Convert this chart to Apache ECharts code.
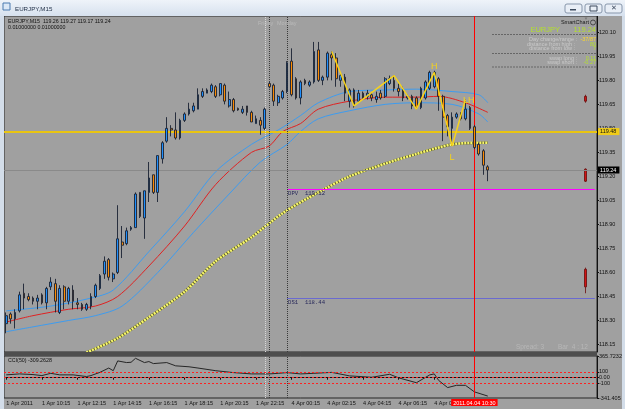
<!DOCTYPE html>
<html>
<head>
<meta charset="utf-8">
<script src="https://cdn.jsdelivr.net/npm/echarts@6/dist/echarts.min.js"></script>
<style>
  html, body { margin: 0; padding: 0; background: #a0a0a0; }
  #chart { width: 625px; height: 409px; }
</style>
</head>
<body>
<div id="chart"></div>
<script>
// bottom axis labels, one every 8 bars (2 hours of M15)
var tickLabels = ['1 Apr 2011', '1 Apr 10:15', '1 Apr 12:15', '1 Apr 14:15', '1 Apr 16:15', '1 Apr 18:15',
    '1 Apr 20:15', '1 Apr 22:15', '4 Apr 00:15', '4 Apr 02:15', '4 Apr 04:15', '4 Apr 06:15', '4 Apr 08:15'];
var priceTicks = [120.10, 119.95, 119.80, 119.65, 119.50, 119.35, 119.20, 119.05, 118.90, 118.75, 118.60, 118.45, 118.30, 118.15];
var cciTicks = [365.7232, 100, 0, -100, -341.405];

// candles, EURJPY M15
var opens = [118.28, 118.34, 118.31, 118.36, 118.47, 118.45, 118.44, 118.42, 118.46, 118.41,
    118.51, 118.53, 118.35, 118.51, 118.42, 118.49, 118.41, 118.40, 118.37, 118.39,
    118.45, 118.50, 118.59, 118.68, 118.56, 118.60, 118.79, 118.78, 118.87, 118.88,
    119.10, 118.94, 119.10, 119.21, 119.10, 119.31, 119.42, 119.50, 119.49, 119.44,
    119.55, 119.59, 119.61, 119.62, 119.70, 119.72, 119.73, 119.76, 119.71, 119.77,
    119.64, 119.68, 119.625, 119.60, 119.64, 119.60, 119.53, 119.55, 119.50, 119.78,
    119.77, 119.66, 119.69, 119.73, 119.92, 119.81, 119.69, 119.80, 119.77, 119.79,
    119.99, 119.80, 119.82, 119.96, 119.94, 119.80, 119.82, 119.67, 119.74, 119.67,
    119.72, 119.70, 119.71, 119.68, 119.72, 119.70, 119.78, 119.80, 119.75, 119.745,
    119.69, 119.70, 119.69, 119.63, 119.69, 119.75, 119.76, 119.81, 119.70, 119.58,
    119.50, 119.57, 119.59, 119.56, 119.63, 119.51, 119.40, 119.36, 119.26];
var closes = [118.33, 118.31, 118.35, 118.46, 118.44, 118.43, 118.42, 118.44, 118.41, 118.50,
    118.54, 118.42, 118.50, 118.42, 118.50, 118.42, 118.40, 118.37, 118.40, 118.45,
    118.52, 118.58, 118.67, 118.57, 118.59, 118.81, 118.77, 118.86, 118.88, 119.09,
    118.95, 119.11, 119.19, 119.10, 119.33, 119.41, 119.50, 119.49, 119.44, 119.55,
    119.59, 119.62, 119.64, 119.71, 119.73, 119.74, 119.77, 119.70, 119.78, 119.67,
    119.68, 119.61, 119.615, 119.62, 119.60, 119.54, 119.56, 119.52, 119.62, 119.76,
    119.67, 119.70, 119.73, 119.91, 119.71, 119.69, 119.79, 119.78, 119.79, 119.98,
    119.80, 119.82, 119.97, 119.94, 119.81, 119.83, 119.72, 119.74, 119.64, 119.72,
    119.69, 119.72, 119.69, 119.70, 119.69, 119.81, 119.81, 119.75, 119.73, 119.69,
    119.70, 119.64, 119.63, 119.75, 119.79, 119.85, 119.85, 119.70, 119.57, 119.51,
    119.57, 119.59, 119.56, 119.62, 119.50, 119.38, 119.34, 119.27, 119.24];
var lows = [118.22, 118.28, 118.25, 118.35, 118.37, 118.42, 118.40, 118.37, 118.40, 118.37,
    118.49, 118.35, 118.34, 118.37, 118.40, 118.37, 118.37, 118.36, 118.36, 118.37,
    118.44, 118.49, 118.56, 118.55, 118.54, 118.59, 118.69, 118.77, 118.86, 118.88,
    118.94, 118.81, 119.04, 119.09, 119.04, 119.28, 119.41, 119.45, 119.43, 119.43,
    119.54, 119.58, 119.60, 119.62, 119.69, 119.72, 119.72, 119.69, 119.70, 119.65,
    119.63, 119.60, 119.61, 119.59, 119.58, 119.54, 119.53, 119.46, 119.49, 119.75,
    119.64, 119.64, 119.68, 119.72, 119.70, 119.68, 119.65, 119.77, 119.76, 119.78,
    119.79, 119.77, 119.80, 119.80, 119.76, 119.76, 119.67, 119.63, 119.63, 119.66,
    119.68, 119.68, 119.67, 119.66, 119.68, 119.69, 119.77, 119.73, 119.70, 119.67,
    119.68, 119.62, 119.62, 119.62, 119.68, 119.74, 119.75, 119.61, 119.42, 119.45,
    119.39, 119.56, 119.55, 119.55, 119.49, 119.37, 119.33, 119.21, 119.17];
var highs = [118.35, 118.35, 118.37, 118.48, 118.53, 118.47, 118.45, 118.46, 118.47, 118.51,
    118.57, 118.56, 118.52, 118.52, 118.51, 118.52, 118.44, 118.41, 118.41, 118.47,
    118.53, 118.59, 118.70, 118.69, 118.60, 119.02, 118.89, 118.88, 118.89, 119.10,
    119.10, 119.11, 119.29, 119.21, 119.33, 119.42, 119.57, 119.52, 119.60, 119.56,
    119.60, 119.66, 119.66, 119.75, 119.75, 119.75, 119.78, 119.77, 119.78, 119.78,
    119.73, 119.69, 119.63, 119.64, 119.64, 119.61, 119.58, 119.57, 119.63, 119.79,
    119.78, 119.71, 119.74, 119.92, 120.00, 119.82, 119.80, 119.81, 119.80, 120.04,
    120.04, 119.83, 119.98, 119.98, 119.97, 119.85, 119.84, 119.75, 119.75, 119.74,
    119.73, 119.74, 119.72, 119.73, 119.74, 119.82, 119.83, 119.83, 119.78, 119.76,
    119.71, 119.71, 119.70, 119.76, 119.80, 119.86, 119.86, 119.82, 119.71, 119.59,
    119.60, 119.60, 119.60, 119.68, 119.64, 119.52, 119.41, 119.37, 119.27];

// moving averages, read at points along each curve: [bar, price]
var maUpper = [[0, 118.36], [10, 118.39], [19, 118.44], [24, 118.49], [32, 118.73], [40, 118.98],
    [47, 119.23], [55, 119.40], [61, 119.49], [66, 119.58], [70, 119.66], [77, 119.73],
    [85, 119.74], [92, 119.745], [100, 119.73], [106, 119.71], [108, 119.66]];
var maMid = [[0, 118.29], [6, 118.33], [14, 118.37], [20, 118.39], [25, 118.45], [32, 118.64],
    [40, 118.89], [47, 119.15], [55, 119.35], [59, 119.39], [62, 119.48], [66, 119.53],
    [70, 119.62], [77, 119.67], [85, 119.695], [92, 119.695], [97, 119.70], [103, 119.66], [108, 119.60]];
var maLower = [[0, 118.23], [6, 118.26], [14, 118.30], [20, 118.33], [26, 118.39], [34, 118.60],
    [42, 118.85], [50, 119.09], [57, 119.29], [63, 119.40], [66, 119.48], [70, 119.56],
    [77, 119.61], [85, 119.65], [92, 119.66], [100, 119.65], [106, 119.59], [108, 119.54]];
var maSlow = [[18, 118.10], [25, 118.19], [32, 118.32], [40, 118.48], [47, 118.67], [55, 118.82],
    [62, 118.97], [70, 119.10], [77, 119.20], [85, 119.28], [92, 119.34], [100, 119.40],
    [107, 119.41], [108, 119.41]];

// zigzag H / L / LH
var zigBars = [73, 78, 87, 92, 96, 100, 103];
var zigPrices = [119.98, 119.64, 119.83, 119.62, 119.85, 119.39, 119.68];
var zigTags = ['', '', '', '', 'H', 'L', 'LH'];

// CCI(50) points
var cciBars = [0, 3, 6, 8, 10, 12, 15, 18, 19, 21, 23, 24, 25, 27, 28, 29, 31, 32, 33, 36, 38, 41, 43, 47,
    51, 55, 59, 61, 63, 66, 69, 73, 77, 82, 86, 88, 92, 95, 96, 97, 99, 101, 103, 105, 108];
var cciValues = [48, 64, 53, 36, 74, 48, 48, 20, 36, 90, 163, 118, 283, 255, 260, 327, 255, 272, 238, 255,
    200, 184, 163, 118, 86, 64, 64, 74, 86, 64, 74, 90, 31, 8, 58, -2, -84, 48, 64, -46, -166, -128,
    -128, -238, -309];

// small red marks at the right edge: [bar, open, close, low, high]
var sideMarks = [[130, 119.70, 119.67, 119.66, 119.71], [130, 119.245, 119.17, 119.165, 119.25],
    [130, 118.62, 118.51, 118.47, 118.63]];

var levels = { yellow: 119.48, bid: 119.24, dpv: 119.12, ds1: 118.44 };
var barsTotal = 133, redBar = 105;

var categories = [];
for (var i = 0; i < barsTotal; i++) {
    categories.push(i % 8 === 0 && i / 8 < tickLabels.length ? tickLabels[i / 8] : 'b' + i);
}

var FONT = 'Liberation Sans, Arial, sans-serif';

function CriaGrafico() {
    var myChart = echarts.init(document.getElementById('chart'), null, { renderer: 'canvas' });

    var candles = opens.map(function (o, k) { return [o, closes[k], lows[k], highs[k]]; });
    var zig = zigBars.map(function (b, k) {
        var item = { value: [b, zigPrices[k]] };
        if (zigTags[k] === 'H') item.label = { show: true, position: 'top', distance: 1, formatter: 'H' };
        if (zigTags[k] === 'L') item.label = { show: true, position: 'bottom', distance: 7, formatter: 'L' };
        if (zigTags[k] === 'LH') item.label = { show: true, position: [-2, -3], formatter: 'LH' };
        return item;
    });
    var cci = cciBars.map(function (b, k) { return [b, cciValues[k]]; });

    var tickEvery = function (idx) { return idx % 8 === 0 && idx / 8 < tickLabels.length; };
    var axisText = { fontSize: 5.5, color: '#111', fontFamily: FONT };

    function hLabel(txt, bg, fg) {
        return { show: true, position: 'end', distance: 1, formatter: txt, backgroundColor: bg, color: fg,
            fontSize: 5.5, fontFamily: FONT, padding: [1, 3, 0, 2] };
    }

    var option = {
        backgroundColor: '#a0a0a0',
        animation: false,
        grid: [
            { left: 4, top: 16, width: 593, height: 336, show: true, borderColor: '#262626', borderWidth: 1, backgroundColor: 'transparent' },
            { left: 4, top: 356, width: 593, height: 42, show: true, borderColor: '#262626', borderWidth: 1, backgroundColor: 'transparent' }
        ],
        xAxis: [
            { type: 'category', gridIndex: 0, data: categories, axisLine: { show: false }, axisTick: { show: false },
              axisLabel: { show: false }, splitLine: { show: false } },
            { type: 'category', gridIndex: 1, data: categories,
              axisLine: { show: true, lineStyle: { color: '#111', width: 1 } },
              axisTick: { show: true, interval: tickEvery, alignWithLabel: true, length: 2, lineStyle: { color: '#111' } },
              axisLabel: Object.assign({ interval: tickEvery, align: 'left', margin: 2 }, axisText),
              splitLine: { show: false } }
        ],
        yAxis: [
            { type: 'value', gridIndex: 0, position: 'right', min: 118.103, max: 120.202, scale: true,
              axisLine: { show: true, lineStyle: { color: '#111' } },
              axisTick: { show: true, length: 2, customValues: priceTicks, lineStyle: { color: '#111' } },
              axisLabel: Object.assign({ customValues: priceTicks, margin: 2, formatter: function (v) { return v.toFixed(2); } }, axisText),
              splitLine: { show: false } },
            { type: 'value', gridIndex: 1, position: 'right', min: -341.405, max: 365.7232,
              axisLine: { show: true, lineStyle: { color: '#111' } },
              axisTick: { show: true, length: 2, customValues: cciTicks, lineStyle: { color: '#111' } },
              axisLabel: Object.assign({ customValues: cciTicks, margin: 2, formatter: function (v) {
                  return v === 0 ? '0.00' : String(v); } }, axisText),
              splitLine: { show: false } }
        ],
        series: [
            {
                name: 'EURJPY', type: 'candlestick', xAxisIndex: 0, yAxisIndex: 0, data: candles, barWidth: 2.2,
                itemStyle: { color: '#1e90ff', color0: '#ff8c00', borderColor: '#1b2233', borderColor0: '#1b2233', borderWidth: 0.9 },
                z: 5,
                markLine: {
                    symbol: ['none', 'none'], silent: true, animation: false,
                    data: [
                        { yAxis: levels.yellow, lineStyle: { color: '#e9c512', width: 2, type: 'solid' },
                          label: hLabel('119.48', '#f0cc18', '#111') },
                        { yAxis: levels.bid, lineStyle: { color: '#8a8a8a', width: 1, type: 'solid' },
                          label: hLabel('119.24', '#000', '#fff') },
                        [{ coord: [categories[63], levels.dpv], lineStyle: { color: '#ff00ff', width: 1, type: 'solid' },
                           label: { show: true, position: 'insideStartBottom', distance: 1, formatter: 'DPV  119.12',
                                    color: '#27285a', fontSize: 5.6, fontFamily: 'Liberation Mono, monospace' } },
                         { coord: [categories[barsTotal - 1], levels.dpv] }],
                        [{ coord: [categories[63], levels.ds1], lineStyle: { color: '#6a6ad0', width: 1, type: 'solid' },
                           label: { show: true, position: 'insideStartBottom', distance: 1, formatter: 'DS1  118.44',
                                    color: '#27285a', fontSize: 5.6, fontFamily: 'Liberation Mono, monospace' } },
                         { coord: [categories[barsTotal - 1], levels.ds1] }],
                        { xAxis: categories[58], lineStyle: { color: '#dadada', width: 1, type: 'dotted' }, label: { show: false } },
                        { xAxis: categories[59], lineStyle: { color: '#3a3a3a', width: 1, type: 'dotted' }, label: { show: false } },
                        { xAxis: categories[63], lineStyle: { color: '#3a3a3a', width: 1, type: 'dotted' }, label: { show: false } },
                        { xAxis: categories[redBar], lineStyle: { color: '#ff0000', width: 1, type: 'solid' }, label: { show: false } }
                    ]
                }
            },
            { type: 'line', xAxisIndex: 0, yAxisIndex: 0, data: maUpper, showSymbol: false, smooth: 0.3,
              lineStyle: { color: '#3d9cf0', width: 1 }, z: 3 },
            { type: 'line', xAxisIndex: 0, yAxisIndex: 0, data: maMid, showSymbol: false, smooth: 0.3,
              lineStyle: { color: '#e02222', width: 1 }, z: 3 },
            { type: 'line', xAxisIndex: 0, yAxisIndex: 0, data: maLower, showSymbol: false, smooth: 0.3,
              lineStyle: { color: '#3d9cf0', width: 1 }, z: 3 },
            { type: 'line', xAxisIndex: 0, yAxisIndex: 0, data: maSlow, showSymbol: false, smooth: 0.3,
              lineStyle: { color: '#5a5a30', width: 2.6 }, z: 3 },
            { type: 'line', xAxisIndex: 0, yAxisIndex: 0, data: maSlow, showSymbol: false, smooth: 0.3,
              lineStyle: { color: '#f6f66a', width: 2.6, type: [2, 1] }, z: 4 },
            { type: 'line', xAxisIndex: 0, yAxisIndex: 0, data: zig, showSymbol: true, symbol: 'circle', symbolSize: 1,
              itemStyle: { color: 'rgba(0,0,0,0)' },
              lineStyle: { color: '#f5d21c', width: 1.5 },
              label: { show: false, color: '#f5d21c', fontSize: 9, fontFamily: FONT }, z: 6 },
            { type: 'candlestick', xAxisIndex: 0, yAxisIndex: 0, data: sideMarks, barWidth: 2.4,
              encode: { x: 0, y: [1, 2, 3, 4] },
              itemStyle: { color: '#d01515', color0: '#d01515', borderColor: '#6a0a0a', borderColor0: '#6a0a0a', borderWidth: 0.8 } },
            {
                name: 'CCI', type: 'line', xAxisIndex: 1, yAxisIndex: 1, data: cci, showSymbol: false,
                lineStyle: { color: '#262626', width: 1 }, z: 4,
                markLine: {
                    symbol: ['none', 'none'], silent: true, animation: false,
                    data: [
                        { yAxis: 100, lineStyle: { color: '#ff2020', width: 1, type: [2, 2] }, label: { show: false } },
                        { yAxis: 0, lineStyle: { color: '#ff2020', width: 1, type: [2, 2] }, label: { show: false } },
                        { yAxis: -100, lineStyle: { color: '#ff2020', width: 1, type: [2, 2] }, label: { show: false } },
                        { xAxis: categories[58], lineStyle: { color: '#dadada', width: 1, type: 'dotted' }, label: { show: false } },
                        { xAxis: categories[59], lineStyle: { color: '#3a3a3a', width: 1, type: 'dotted' }, label: { show: false } },
                        { xAxis: categories[63], lineStyle: { color: '#3a3a3a', width: 1, type: 'dotted' }, label: { show: false } },
                        { xAxis: categories[redBar], lineStyle: { color: '#ff0000', width: 1, type: 'solid' },
                          label: { show: true, position: 'start', distance: 1, formatter: '2011.04.04 10:30',
                                   backgroundColor: '#ff0000', color: '#fff', fontSize: 5.5, fontFamily: FONT, padding: [1, 2, 0, 2] } }
                    ]
                }
            }
        ],
        graphic: [
            // window chrome
            { type: 'rect', shape: { x: 0, y: 0, width: 625, height: 16 }, silent: true, z: 100,
              style: { fill: new echarts.graphic.LinearGradient(0, 0, 0, 1, [{ offset: 0, color: '#eef3f9' }, { offset: 1, color: '#d6e1ee' }]) } },
            { type: 'rect', shape: { x: 0, y: 16, width: 4, height: 393 }, silent: true, z: 100, style: { fill: '#d3dde9' } },
            { type: 'rect', shape: { x: 622, y: 16, width: 3, height: 393 }, silent: true, z: 100, style: { fill: '#d3dde9' } },
            { type: 'rect', shape: { x: 4, y: 352, width: 593, height: 4 }, silent: true, z: 100, style: { fill: '#4e4e4e' } },
            { type: 'rect', shape: { x: 3, y: 3, width: 7, height: 7 }, silent: true, z: 101, style: { fill: '#dbe8f6', stroke: '#4a7ab0', lineWidth: 1 } },
            { type: 'text', x: 15, y: 9, silent: true, z: 101,
              style: { text: 'EURJPY,M15', fill: '#1e2d44', font: '6.2px ' + FONT, verticalAlign: 'middle' } },
            { type: 'rect', shape: { x: 565, y: 4, width: 17, height: 9, r: 2 }, silent: true, z: 101, style: { fill: '#e8eef6', stroke: '#8796ab' } },
            { type: 'rect', shape: { x: 585, y: 4, width: 17, height: 9, r: 2 }, silent: true, z: 101, style: { fill: '#e8eef6', stroke: '#8796ab' } },
            { type: 'rect', shape: { x: 605, y: 4, width: 17, height: 9, r: 2 }, silent: true, z: 101, style: { fill: '#e8eef6', stroke: '#8796ab' } },
            { type: 'rect', shape: { x: 570, y: 9, width: 6, height: 1.5 }, silent: true, z: 102, style: { fill: '#3c4a5e' } },
            { type: 'rect', shape: { x: 590, y: 6, width: 7, height: 5 }, silent: true, z: 102, style: { fill: 'none', stroke: '#3c4a5e', lineWidth: 1 } },
            { type: 'text', x: 613.5, y: 8.5, silent: true, z: 102,
              style: { text: '✕', fill: '#3c4a5e', font: '7px ' + FONT, align: 'center', verticalAlign: 'middle' } },
            // chart captions
            { type: 'text', x: 8, y: 19.5, silent: true, z: 50,
              style: { text: 'EURJPY,M15  119.26 119.27 119.17 119.24', fill: '#111', font: '5.3px ' + FONT } },
            { type: 'text', x: 8, y: 25, silent: true, z: 50,
              style: { text: '0.01000000 0.01000000', fill: '#111', font: '5.3px ' + FONT } },
            { type: 'text', x: 8, y: 358.5, silent: true, z: 50,
              style: { text: 'CCI(50) -309.2628', fill: '#111', font: '5.3px ' + FONT } },
            { type: 'text', x: 258, y: 20, silent: true, z: 50,
              style: { text: 'Friday', fill: '#b9b9b9', font: '5.5px ' + FONT } },
            { type: 'text', x: 277, y: 20, silent: true, z: 50,
              style: { text: 'Monday', fill: '#b9b9b9', font: '5.5px ' + FONT } },
            { type: 'text', x: 516, y: 344, silent: true, z: 50,
              style: { text: 'Spread: 3', fill: '#b7b7b7', font: '6.5px ' + FONT } },
            { type: 'text', x: 558, y: 344, silent: true, z: 50,
              style: { text: 'Bar  4 : 12', fill: '#b7b7b7', font: '6.5px ' + FONT } },
            // SmartChart panel
            { type: 'text', x: 586, y: 16.5, silent: true, z: 50,
              style: { text: '▼', fill: '#7a7a7a', font: '4.5px ' + FONT, align: 'center' } },
            { type: 'text', x: 589, y: 22.5, silent: true, z: 50,
              style: { text: 'SmartChart', fill: '#1a1a1a', font: '5.5px ' + FONT, align: 'right', verticalAlign: 'middle' } },
            { type: 'circle', shape: { cx: 593, cy: 22.5, r: 2.5 }, silent: true, z: 50, style: { fill: 'none', stroke: '#333', lineWidth: 0.8 } },
            { type: 'text', x: 560, y: 30, silent: true, z: 50,
              style: { text: 'EURJPY', fill: '#b4e02c', font: '7.5px ' + FONT, align: 'right', verticalAlign: 'middle' } },
            { type: 'text', x: 596, y: 30, silent: true, z: 50,
              style: { text: '119.24', fill: '#b4e02c', font: '7.5px ' + FONT, align: 'right', verticalAlign: 'middle' } },
            { type: 'line', shape: { x1: 492, y1: 34.5, x2: 596, y2: 34.5 }, silent: true, z: 50, style: { stroke: '#666', lineWidth: 1, lineDash: [2, 1] } },
            { type: 'text', x: 577, y: 39.5, silent: true, z: 50,
              style: { text: 'Day change/range :', fill: '#cacaca', font: '5.5px ' + FONT, align: 'right', verticalAlign: 'middle' } },
            { type: 'text', x: 596, y: 39.5, silent: true, z: 50,
              style: { text: '-37/87', fill: '#ffd926', font: '5.5px ' + FONT, align: 'right', verticalAlign: 'middle' } },
            { type: 'text', x: 575, y: 44, silent: true, z: 50,
              style: { text: 'distance from high :', fill: '#cacaca', font: '5.5px ' + FONT, align: 'right', verticalAlign: 'middle' } },
            { type: 'text', x: 596, y: 44, silent: true, z: 50,
              style: { text: '80', fill: '#b4e02c', font: '5.5px ' + FONT, align: 'right', verticalAlign: 'middle' } },
            { type: 'text', x: 575, y: 48.5, silent: true, z: 50,
              style: { text: 'distance from low :', fill: '#cacaca', font: '5.5px ' + FONT, align: 'right', verticalAlign: 'middle' } },
            { type: 'text', x: 596, y: 48.5, silent: true, z: 50,
              style: { text: '7', fill: '#b4e02c', font: '5.5px ' + FONT, align: 'right', verticalAlign: 'middle' } },
            { type: 'line', shape: { x1: 492, y1: 53.5, x2: 596, y2: 53.5 }, silent: true, z: 50, style: { stroke: '#666', lineWidth: 1, lineDash: [2, 1] } },
            { type: 'text', x: 577, y: 58, silent: true, z: 50,
              style: { text: 'swap long :', fill: '#cacaca', font: '5.5px ' + FONT, align: 'right', verticalAlign: 'middle' } },
            { type: 'text', x: 596, y: 58, silent: true, z: 50,
              style: { text: '0.11', fill: '#b4e02c', font: '5.5px ' + FONT, align: 'right', verticalAlign: 'middle' } },
            { type: 'text', x: 577, y: 62.5, silent: true, z: 50,
              style: { text: 'swap short :', fill: '#cacaca', font: '5.5px ' + FONT, align: 'right', verticalAlign: 'middle' } },
            { type: 'text', x: 596, y: 62.5, silent: true, z: 50,
              style: { text: '-0.27', fill: '#b4e02c', font: '5.5px ' + FONT, align: 'right', verticalAlign: 'middle' } },
            { type: 'line', shape: { x1: 492, y1: 67, x2: 596, y2: 67 }, silent: true, z: 50, style: { stroke: '#666', lineWidth: 1, lineDash: [2, 1] } }
        ]
    };

    option && myChart.setOption(option);
}

CriaGrafico();
</script>
</body>
</html>
